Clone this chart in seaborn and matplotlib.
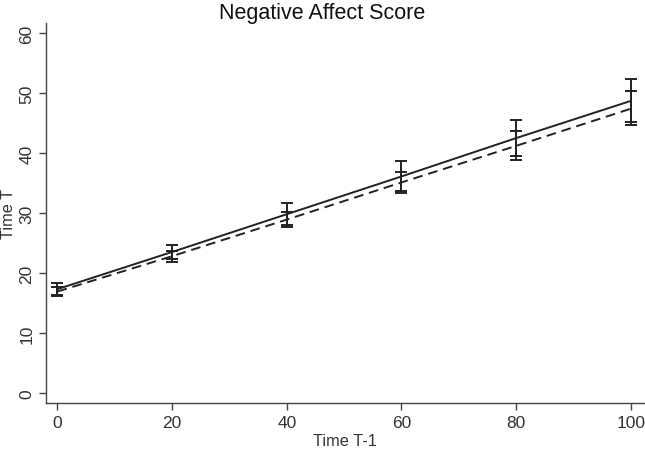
import numpy as np
import pandas as pd
import matplotlib
matplotlib.use("Agg")
import matplotlib.pyplot as plt
import seaborn as sns

sns.set_style("ticks")
plt.rcParams['font.family'] = ['Liberation Sans', 'DejaVu Sans']

# values
time_prev = [0, 20, 40, 60, 80, 100]
solid_mean = [17.3, 23.5, 29.8, 36.1, 42.5, 48.7]
solid_lo = [16.4, 22.3, 28.0, 33.7, 39.5, 45.2]
solid_hi = [18.3, 24.7, 31.7, 38.6, 45.5, 52.4]
dash_mean = [16.9, 22.8, 28.9, 35.1, 41.2, 47.4]
dash_lo = [16.2, 21.9, 27.7, 33.3, 38.9, 44.6]
dash_hi = [17.6, 23.7, 30.1, 36.9, 43.6, 50.3]
y_ticks = [0, 10, 20, 30, 40, 50, 60]
x_ticks = [0, 20, 40, 60, 80, 100]

df = pd.DataFrame({
    "x": time_prev * 2,
    "y": solid_mean + dash_mean,
    "group": ["solid"] * 6 + ["dash"] * 6,
})

fig = plt.figure(figsize=(6.45, 4.52), dpi=100)
ax = fig.add_axes([46 / 645, 48 / 452, 598 / 645, 380 / 452])

ink = "#222222"
sns.lineplot(data=df, x="x", y="y", style="group",
             dashes={"solid": "", "dash": (5, 3)},
             color=ink, linewidth=1.4, legend=False, ax=ax)

for mean, lo, hi in [(solid_mean, solid_lo, solid_hi), (dash_mean, dash_lo, dash_hi)]:
    mean = np.array(mean)
    err = [mean - np.array(lo), np.array(hi) - mean]
    ax.errorbar(time_prev, mean, yerr=err, fmt="none", ecolor=ink,
                elinewidth=1.4, capsize=4, capthick=1.4)

ax.set_xlim(-2, 102.3)
ax.set_ylim(-1.7, 61.7)
ax.set_xticks(x_ticks)
ax.set_yticks(y_ticks)
ax.set_yticklabels([str(v) for v in y_ticks], rotation=90, va="center")
ax.tick_params(axis="both", labelsize=12.5, length=5, width=1, color="#444444",
               labelcolor="#333333")
ax.set_xlabel("Time T-1", fontsize=11.7, color="#333333", labelpad=2)
ax.set_ylabel("Time T", fontsize=11.7, color="#333333", va="center")
ax.yaxis.set_label_coords(-0.063, 0.5)
fig.text(0.5, 1 - 14 / 452, "Negative Affect Score", fontsize=15.5,
         color="#111111", ha="center", va="center")
sns.despine(ax=ax)
for s in ["left", "bottom"]:
    ax.spines[s].set_color("#444444")
    ax.spines[s].set_linewidth(1)

fig.savefig("out.png", dpi=100)
